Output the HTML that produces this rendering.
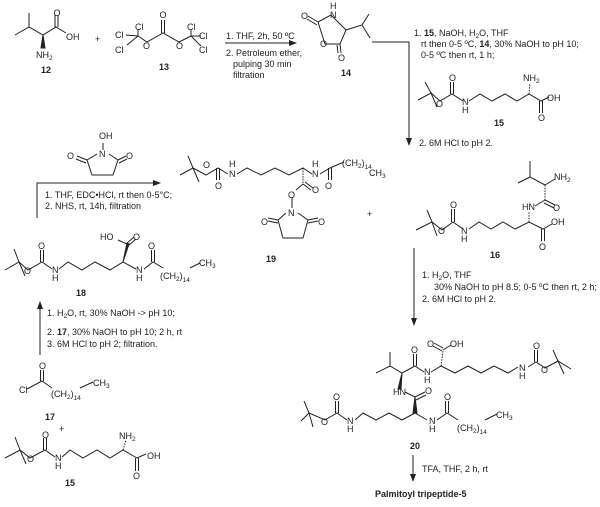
<!DOCTYPE html>
<html><head><meta charset="utf-8"><style>
html,body{margin:0;padding:0;background:#fff}
svg{display:block}
text{font-family:"Liberation Sans",Arial,sans-serif;font-size:9px;fill:#222}
.b{font-weight:bold}
.s{font-size:6.5px}
</style></head><body>
<svg width="600" height="507" viewBox="0 0 600 507" xmlns="http://www.w3.org/2000/svg">
<defs><marker id="ah" markerWidth="8" markerHeight="6" refX="7" refY="3" orient="auto"><path d="M0,0 L8,3 L0,6 z" fill="#222"/></marker></defs>
<g stroke="#222" stroke-width="1" fill="none">
<polyline points="15,35 29,27 43,35 56,27 66,33"/><line x1="29" y1="27" x2="29" y2="13"/>
<line x1="55" y1="27" x2="55" y2="15"/><line x1="58" y1="27" x2="58" y2="15"/>
<polygon points="43,35 41,48 45,48" fill="#222"/>
<polyline points="138,36 147,42 163,33 179,42 191,36"/>
<line x1="161.5" y1="33" x2="161.5" y2="20"/><line x1="164.5" y1="33" x2="164.5" y2="20"/>
<line x1="138" y1="36" x2="138" y2="30"/><line x1="138" y1="36" x2="126" y2="35"/><line x1="138" y1="36" x2="127" y2="45"/>
<line x1="191" y1="36" x2="191" y2="30"/><line x1="191" y1="36" x2="201" y2="36"/><line x1="191" y1="36" x2="201" y2="46"/>
<line x1="225" y1="43" x2="296" y2="43" marker-end="url(#ah)"/>
<polyline points="318,22 331,15 346,30 340,44 325,44 318,22"/>
<line x1="318" y1="22" x2="308" y2="16"/><line x1="317" y1="25" x2="307" y2="19"/>
<line x1="340" y1="44" x2="341" y2="53"/><line x1="337" y1="45" x2="338" y2="53"/>
<polyline points="346,30 362,25 369,14"/><polyline points="362,25 370,38"/>
<polyline points="372,42 409,42 409,145" marker-end="url(#ah)"/>
<polyline points="418,100 431,93 440,101 452,94 463,101"/><line x1="431" y1="93" x2="425" y2="82"/><line x1="431" y1="93" x2="437" y2="107"/>
<line x1="450.5" y1="94" x2="450.5" y2="82"/><line x1="453.5" y1="94" x2="453.5" y2="82"/>
<polyline points="469,101 480,94 492,101 505,94 517,101 529,94 541,101 549,97"/>
<line x1="529" y1="94" x2="530" y2="83" stroke-dasharray="1.5,1.2"/>
<line x1="539.5" y1="101" x2="539.5" y2="113"/><line x1="542.5" y1="101" x2="542.5" y2="113"/>
<polyline points="103,143 103,150"/>
<polyline points="97,154 87,160 92,175 113,175 118,160 109,154"/>
<line x1="87" y1="160" x2="77" y2="156"/><line x1="86" y1="163" x2="76" y2="159"/>
<line x1="118" y1="160" x2="126" y2="156"/><line x1="119" y1="163" x2="127" y2="159"/>
<polyline points="37,218 37,183 160,183" marker-end="url(#ah)"/>
<polyline points="180,175 193,168 206,175 218,168 228,174"/><line x1="193" y1="168" x2="188" y2="156"/><line x1="193" y1="168" x2="199" y2="182"/>
<line x1="216.5" y1="168" x2="216.5" y2="180"/><line x1="219.5" y1="168" x2="219.5" y2="180"/>
<polyline points="237,174 247,168 261,175 275,168 289,175 303,168 312,174"/>
<polyline points="320,174 330,168 344,162"/>
<line x1="328.5" y1="168" x2="328.5" y2="180"/><line x1="331.5" y1="168" x2="331.5" y2="180"/>
<line x1="303" y1="168" x2="303" y2="184" stroke-dasharray="1.5,1.2"/>
<polyline points="303,184 296,190"/><line x1="303" y1="184" x2="311" y2="190"/><line x1="305" y1="182" x2="313" y2="188"/>
<line x1="292" y1="197" x2="292" y2="208"/>
<polyline points="286,213 278,220 283,238 303,238 308,220 298,213"/>
<line x1="278" y1="220" x2="268" y2="218"/><line x1="278" y1="223" x2="268" y2="221"/>
<line x1="308" y1="220" x2="318" y2="218"/><line x1="308" y1="223" x2="318" y2="221"/>
<polyline points="416,230 432,222 442,230 453,222 463,229"/><line x1="432" y1="222" x2="427" y2="210"/><line x1="432" y1="222" x2="437" y2="236"/>
<line x1="451.5" y1="222" x2="451.5" y2="209"/><line x1="454.5" y1="222" x2="454.5" y2="209"/>
<polyline points="469,229 479,222 491,229 503,222 515,229 529,222 543,229 552,224"/>
<line x1="541.5" y1="229" x2="541.5" y2="241"/><line x1="544.5" y1="229" x2="544.5" y2="241"/>
<line x1="529" y1="222" x2="529" y2="212" stroke-dasharray="1.5,1.2"/>
<polyline points="535,206 545,200"/><line x1="545" y1="200" x2="555" y2="205"/><line x1="544" y1="203" x2="554" y2="208"/>
<line x1="545" y1="200" x2="545" y2="185" stroke-dasharray="1.5,1.2"/>
<polyline points="545,185 555,179"/><polyline points="545,185 530,177 530,161"/><line x1="530" y1="177" x2="518" y2="183"/>
<line x1="414" y1="248" x2="414" y2="325" marker-end="url(#ah)"/>
<polyline points="5,270 19,262 28,270 42,262 52,269"/><line x1="19" y1="262" x2="14" y2="249"/><line x1="19" y1="262" x2="25" y2="276"/>
<line x1="40.5" y1="262" x2="40.5" y2="250"/><line x1="43.5" y1="262" x2="43.5" y2="250"/>
<polyline points="59,269 68,262 82,270 95,262 110,270 123,262 136,269"/>
<polygon points="123,262 127,243 129,244" fill="#222"/>
<line x1="126" y1="244" x2="134" y2="237"/><line x1="128" y1="246" x2="136" y2="239"/><line x1="127" y1="244" x2="118" y2="240"/>
<polyline points="144,269 153,262 163,268"/>
<line x1="151.5" y1="262" x2="151.5" y2="250"/><line x1="154.5" y1="262" x2="154.5" y2="250"/>
<line x1="190" y1="268" x2="200" y2="263"/>
<line x1="40" y1="355" x2="40" y2="302" marker-end="url(#ah)"/>
<polyline points="27,389 42,381 52,388"/><line x1="40.5" y1="381" x2="40.5" y2="370"/><line x1="43.5" y1="381" x2="43.5" y2="370"/>
<line x1="80" y1="388" x2="93" y2="382"/>
<polyline points="5,458 20,450 30,458 45,450 55,457"/><line x1="20" y1="450" x2="15" y2="437"/><line x1="20" y1="450" x2="26" y2="464"/>
<line x1="43.5" y1="450" x2="43.5" y2="438"/><line x1="46.5" y1="450" x2="46.5" y2="438"/>
<polyline points="62,457 70,450 83,458 97,450 110,458 123,450 137,458 146,454"/>
<line x1="123" y1="450" x2="126" y2="440" stroke-dasharray="1.5,1.2"/>
<line x1="135.5" y1="458" x2="135.5" y2="471"/><line x1="138.5" y1="458" x2="138.5" y2="471"/>
<polyline points="376,373 390,366 402,373 415,366 424,372"/><line x1="390" y1="366" x2="390" y2="352"/>
<line x1="413.5" y1="366" x2="413.5" y2="354"/><line x1="416.5" y1="366" x2="416.5" y2="354"/>
<polyline points="431,372 441,366 455,373 468,366 481,373 494,366 508,373 518,367"/>
<line x1="441" y1="366" x2="443" y2="351" stroke-dasharray="1.5,1.2"/>
<line x1="442" y1="351" x2="433" y2="346"/><line x1="443" y1="348" x2="434" y2="343"/><line x1="443" y1="350" x2="451" y2="345"/>
<polyline points="528,367 536,362 545,368 558,361 571,369"/><line x1="558" y1="361" x2="553" y2="350"/><line x1="558" y1="361" x2="564" y2="374"/>
<line x1="534.5" y1="362" x2="534.5" y2="350"/><line x1="537.5" y1="362" x2="537.5" y2="350"/>
<polygon points="402,373 398,389 401,389" fill="#222"/>
<polyline points="405,392 415,397"/><line x1="415" y1="397" x2="425" y2="392"/><line x1="416" y1="400" x2="426" y2="395"/>
<polygon points="415,397 413,413 417,413" fill="#222"/>
<polyline points="301,421 309,413 325,420 337,413 347,420"/><line x1="309" y1="413" x2="304" y2="401"/><line x1="309" y1="413" x2="313" y2="427"/>
<line x1="335.5" y1="413" x2="335.5" y2="401"/><line x1="338.5" y1="413" x2="338.5" y2="401"/>
<polyline points="355,420 363,413 376,420 389,413 402,420 415,413 427,420"/>
<polyline points="437,420 447,413 458,420"/>
<line x1="445.5" y1="413" x2="445.5" y2="401"/><line x1="448.5" y1="413" x2="448.5" y2="401"/>
<line x1="485" y1="420" x2="497" y2="414"/>
<line x1="413" y1="455" x2="413" y2="481" marker-end="url(#ah)"/>
</g>
<g>
<text x="57" y="16" text-anchor="middle">O</text><text x="66" y="40">OH</text><text x="36" y="58">NH<tspan class="s" dy="2">2</tspan></text>
<text class="b" x="41" y="73">12</text>
<text x="95" y="42">+</text>
<text x="163" y="18" text-anchor="middle">O</text><text x="143" y="49">O</text><text x="176" y="49">O</text>
<text x="135" y="30">Cl</text><text x="115" y="38">Cl</text><text x="115" y="53">Cl</text>
<text x="187" y="30">Cl</text><text x="199" y="39">Cl</text><text x="199" y="53">Cl</text>
<text class="b" x="159" y="70">13</text>
<text x="226" y="39">1. THF, 2h, 50 ºC</text>
<text x="226" y="56">2. Petroleum ether,</text>
<text x="233" y="67">pulping 30 min</text>
<text x="233" y="78">filtration</text>
<text x="301" y="19">O</text><text x="330" y="9">H</text><text x="330" y="18">N</text><text x="320" y="47">O</text><text x="338" y="61">O</text>
<text class="b" x="341" y="76">14</text>
<text x="414" y="36">1. <tspan class="b">15</tspan>, NaOH, H<tspan class="s" dy="2">2</tspan><tspan dy="-2">O, THF</tspan></text>
<text x="421" y="47">rt then 0-5 ºC, <tspan class="b">14</tspan>, 30% NaOH to pH 10;</text>
<text x="421" y="58">0-5 ºC then rt, 1 h;</text>
<text x="436" y="107">O</text><text x="449" y="81">O</text><text x="462" y="105">N</text><text x="462" y="113">H</text>
<text x="523" y="81">NH<tspan class="s" dy="2">2</tspan></text><text x="547" y="101">OH</text><text x="538" y="121">O</text>
<text class="b" x="494" y="126">15</text>
<text x="419" y="146">2. 6M HCl to pH 2.</text>
<text x="99" y="139">OH</text><text x="99" y="157">N</text><text x="67" y="159">O</text><text x="126" y="159">O</text>
<text x="45" y="198">1. THF, EDC•HCl, rt then 0-5°C;</text>
<text x="45" y="209">2. NHS, rt, 14h, filtration</text>
<text x="203" y="168">O</text><text x="215" y="189">O</text><text x="229" y="177">N</text><text x="229" y="167">H</text>
<text x="312" y="177">N</text><text x="312" y="167">H</text><text x="325" y="189">O</text>
<text x="342" y="166">(CH<tspan class="s" dy="2">2</tspan><tspan dy="-2">)</tspan><tspan class="s" dy="3">14</tspan></text>
<text x="369" y="176">CH<tspan class="s" dy="2">3</tspan></text>
<text x="312" y="193">O</text><text x="288" y="198">O</text><text x="288" y="216">N</text>
<text x="261" y="225">O</text><text x="318" y="225">O</text>
<text class="b" x="266" y="262">19</text>
<text x="367" y="217">+</text>
<text x="438" y="234">O</text><text x="450" y="208">O</text><text x="461" y="234">N</text><text x="461" y="242">H</text>
<text x="551" y="225">OH</text><text x="539" y="250">O</text>
<text x="522" y="210">HN</text><text x="553" y="211">O</text><text x="554" y="180">NH<tspan class="s" dy="2">2</tspan></text>
<text class="b" x="490" y="258">16</text>
<text x="422" y="278">1. H<tspan class="s" dy="2">2</tspan><tspan dy="-2">O, THF</tspan></text>
<text x="434" y="290">30% NaOH to pH 8.5; 0-5 ºC then rt, 2 h;</text>
<text x="422" y="302">2. 6M HCl to pH 2.</text>
<text x="24" y="274">O</text><text x="38" y="249">O</text><text x="52" y="273">N</text><text x="52" y="281">H</text>
<text x="100" y="240">HO</text><text x="133" y="240">O</text>
<text x="136" y="273">N</text><text x="136" y="281">H</text><text x="148" y="249">O</text>
<text x="160" y="279">(CH<tspan class="s" dy="2">2</tspan><tspan dy="-2">)</tspan><tspan class="s" dy="3">14</tspan></text>
<text x="199" y="266">CH<tspan class="s" dy="2">3</tspan></text>
<text class="b" x="76" y="296">18</text>
<text x="47" y="316">1. H<tspan class="s" dy="2">2</tspan><tspan dy="-2">O, rt, 30% NaOH -&gt; pH 10;</tspan></text>
<text x="47" y="335">2. <tspan class="b">17</tspan>, 30% NaOH to pH 10; 2 h, rt</text>
<text x="47" y="347">3. 6M HCl to pH 2; filtration.</text>
<text x="39" y="369">O</text><text x="19" y="393">Cl</text>
<text x="51" y="397">(CH<tspan class="s" dy="2">2</tspan><tspan dy="-2">)</tspan><tspan class="s" dy="3">14</tspan></text>
<text x="93" y="386">CH<tspan class="s" dy="2">3</tspan></text>
<text class="b" x="45" y="420">17</text>
<text x="59" y="432">+</text>
<text x="27" y="462">O</text><text x="42" y="438">O</text><text x="55" y="461">N</text><text x="55" y="469">H</text>
<text x="119" y="439">NH<tspan class="s" dy="2">2</tspan></text><text x="147" y="459">OH</text><text x="133" y="479">O</text>
<text class="b" x="65" y="486">15</text>
<text x="411" y="353">O</text><text x="427" y="347">O</text><text x="450" y="347">OH</text>
<text x="424" y="375">N</text><text x="424" y="383">H</text>
<text x="519" y="371">N</text><text x="519" y="379">H</text><text x="533" y="349">O</text><text x="541" y="373">O</text>
<text x="393" y="395">HN</text><text x="425" y="394">O</text>
<text x="321" y="425">O</text><text x="333" y="400">O</text><text x="347" y="424">N</text><text x="347" y="432">H</text>
<text x="429" y="424">N</text><text x="429" y="432">H</text><text x="444" y="400">O</text>
<text x="457" y="431">(CH<tspan class="s" dy="2">2</tspan><tspan dy="-2">)</tspan><tspan class="s" dy="3">14</tspan></text>
<text x="496" y="418">CH<tspan class="s" dy="2">3</tspan></text>
<text class="b" x="410" y="449">20</text>
<text x="422" y="472">TFA, THF, 2 h, rt</text>
<text class="b" x="375" y="497">Palmitoyl tripeptide-5</text>
</g>
</svg>
</body></html>
